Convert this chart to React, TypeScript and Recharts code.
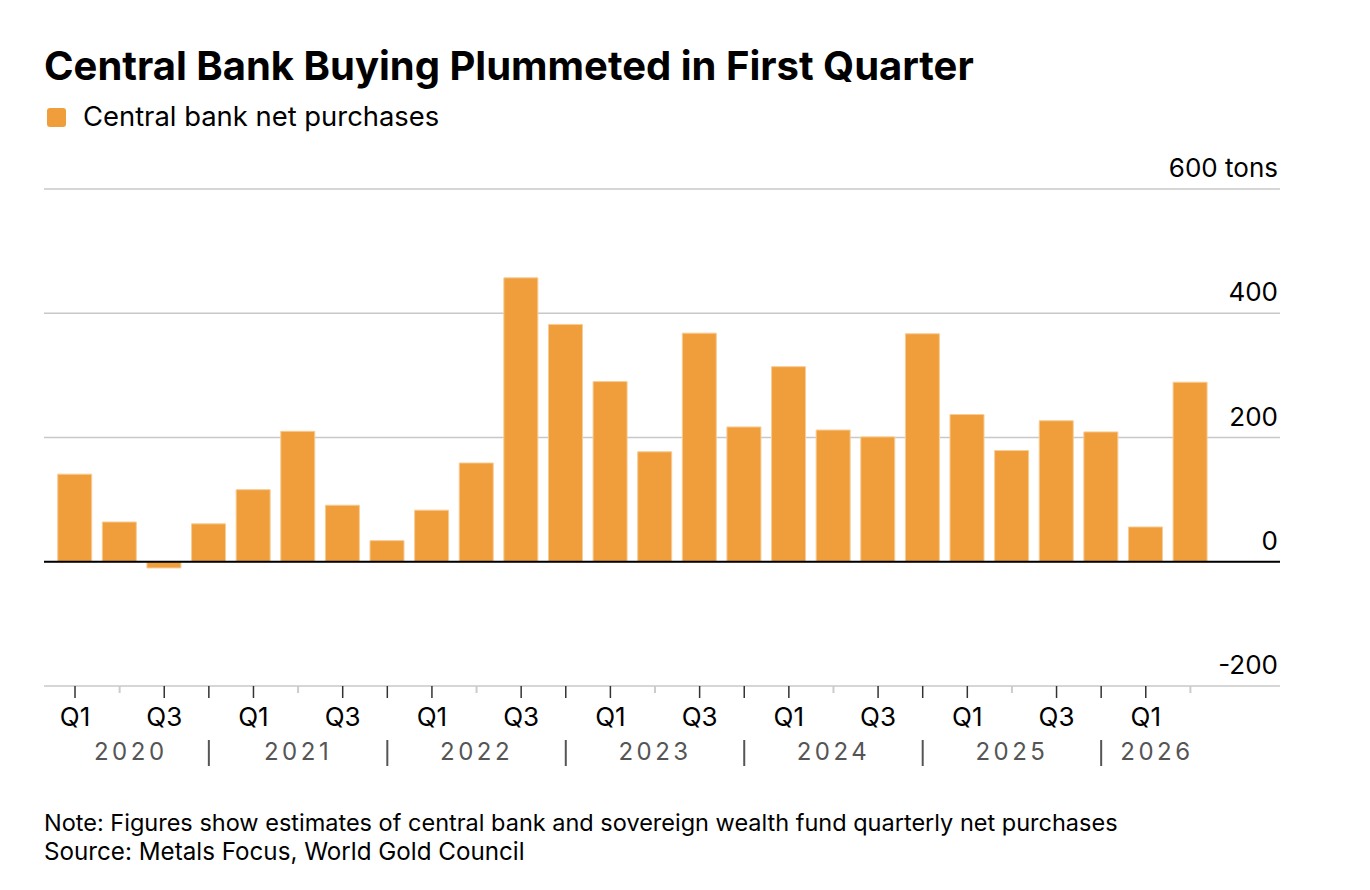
import React from "react";
import { BarChart, Bar, XAxis, YAxis, CartesianGrid, ReferenceLine } from "recharts";

// quarterly central bank net purchases, tons
const periods = [
  "2020 Q1", "2020 Q2", "2020 Q3", "2020 Q4",
  "2021 Q1", "2021 Q2", "2021 Q3", "2021 Q4",
  "2022 Q1", "2022 Q2", "2022 Q3", "2022 Q4",
  "2023 Q1", "2023 Q2", "2023 Q3", "2023 Q4",
  "2024 Q1", "2024 Q2", "2024 Q3", "2024 Q4",
  "2025 Q1", "2025 Q2", "2025 Q3", "2025 Q4",
  "2026 Q1", "2026 Q2",
];
const netPurchases = [
  141, 64, -10, 61,
  116, 210, 91, 34,
  83, 159, 457, 382,
  290, 177, 368, 217,
  314, 212, 201, 367,
  237, 179, 227, 209,
  56, 289,
];
const yTicks = [-200, 0, 200, 400, 600];
const labeledQuarters = ["Q1", "Q3"];

const W = 1370;
const H = 890;
const MARGIN = { top: 189, right: 89, bottom: 104, left: 44 };
const PAD = { left: 8.7, right: 67.3 };
const STEP = (W - MARGIN.left - MARGIN.right - 1 - PAD.left - PAD.right) / periods.length;
const FONT = "Inter, 'Liberation Sans', Arial, sans-serif";
const ORANGE = "#f09e3b";

const data = periods.map((p, i) => ({ period: p, value: netPurchases[i] }));

const yearOf = periods.map((p) => p.split(" ")[0]);

// year label sits between the separators of its year
function yearOffset(i: number) {
  const yr = yearOf[i];
  const first = yearOf.indexOf(yr);
  const last = yearOf.lastIndexOf(yr);
  const left = first > 0 ? first - 1 : first - 0.5;
  const right = periods[last].endsWith("Q4") ? last : last + 0.5;
  return ((left + right) / 2 - i) * STEP;
}

function QuarterTick(props: any) {
  const { x, y, payload } = props;
  const i = periods.indexOf(payload.value);
  const [yr, q] = payload.value.split(" ");
  const isFirstOfYear = yearOf.indexOf(yr) === i;
  const light = q === "Q2";
  return (
    <g>
      <line
        x1={x}
        x2={x}
        y1={y}
        y2={y + (light ? 7 : 12)}
        stroke={light ? "#cccccc" : "#333"}
        strokeWidth={light ? 2 : 1.5}
      />
      {labeledQuarters.includes(q) && (
        <text x={x} y={y + 40} textAnchor="middle" fontSize={26} fill="#000" fontFamily={FONT}>
          {q}
        </text>
      )}
      {q === "Q4" && (
        <line x1={x} x2={x} y1={y + 54} y2={y + 80} stroke="#555" strokeWidth={2} />
      )}
      {isFirstOfYear && (
        <text
          x={x + yearOffset(i)}
          y={y + 74}
          textAnchor="middle"
          fontSize={24}
          fill="#555"
          letterSpacing={3.5}
          fontFamily={FONT}
        >
          {yr}
        </text>
      )}
    </g>
  );
}

function ValueTick(props: any) {
  const { x, y, payload } = props;
  return (
    <text x={x - 2} y={y - 12} textAnchor="end" fontSize={26} fill="#000" fontFamily={FONT}>
      {payload.value === 600 ? "600 tons" : payload.value}
    </text>
  );
}

export default function App() {
  return (
    <div style={{ position: "absolute", left: 0, top: 0, width: W, height: H, background: "#fff" }}>
      <svg width={W} height={H} style={{ position: "absolute", left: 0, top: 0 }}>
        <text x={44} y={80} fontSize={40} fontWeight={700} fill="#000" fontFamily={FONT}>
          Central Bank Buying Plummeted in First Quarter
        </text>
        <rect x={47} y={108} width={19} height={19} rx={3} fill={ORANGE} />
        <text x={83} y={126} fontSize={27.4} fill="#000" fontFamily={FONT}>
          Central bank net purchases
        </text>
        <text x={44} y={831} fontSize={23.5} fill="#000" fontFamily={FONT}>
          Note: Figures show estimates of central bank and sovereign wealth fund quarterly net purchases
        </text>
        <text x={44} y={860} fontSize={24.2} fill="#000" fontFamily={FONT}>
          Source: Metals Focus, World Gold Council
        </text>
      </svg>
      <div style={{ position: "absolute", left: 0, top: 0 }}>
        <BarChart width={W} height={H} data={data} margin={MARGIN}>
          <CartesianGrid vertical={false} stroke="#c8c8c8" strokeWidth={1.5} />
          <XAxis
            dataKey="period"
            height={100}
            padding={PAD}
            axisLine={false}
            tickLine={false}
            tickSize={0}
            tickMargin={0}
            interval={0}
            tick={<QuarterTick />}
          />
          <YAxis
            orientation="right"
            width={1}
            domain={[-200, 600]}
            ticks={yTicks}
            interval={0}
            axisLine={false}
            tickLine={false}
            tickSize={0}
            tickMargin={0}
            tick={<ValueTick />}
          />
          <Bar
            dataKey="value"
            fill={ORANGE}
            stroke="#f7cc95"
            strokeWidth={1}
            barSize={34}
            isAnimationActive={false}
          />
          <ReferenceLine y={0} stroke="#000" strokeWidth={2} />
        </BarChart>
      </div>
    </div>
  );
}
